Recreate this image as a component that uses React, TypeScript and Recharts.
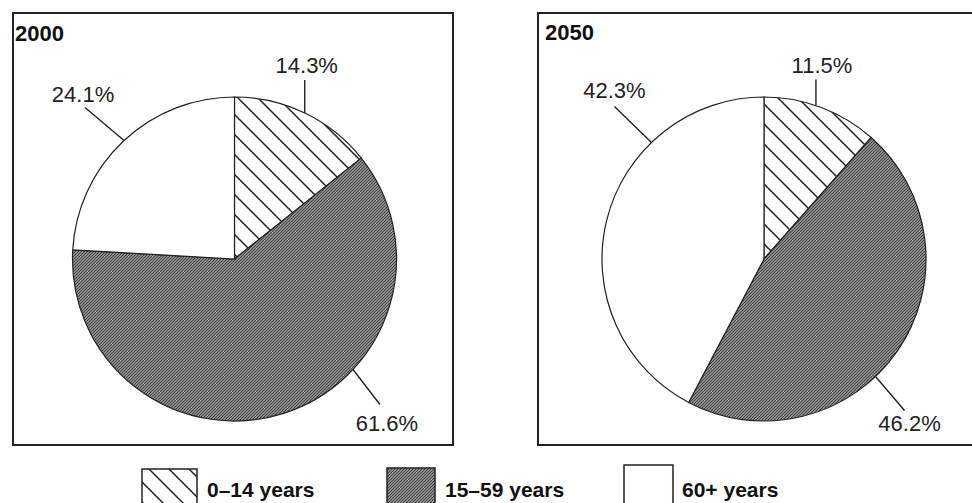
import { Cell, Customized, Pie, PieChart } from "recharts";

const AGE_GROUPS = ["0–14 years", "15–59 years", "60+ years"];
const YEARS = ["2000", "2050"];
const SHARE_2000 = [14.3, 61.6, 24.1];
const SHARE_2050 = [11.5, 46.2, 42.3];

const W = 972;
const H = 503;
const R = 162;
const INK = "#222";
const FONT = "Arial, 'Liberation Sans', Helvetica, sans-serif";

const FILLS = ["url(#hatch)", "url(#grain)", "#ffffff"];

// where each pie sits and its frame
const PANELS = [
  { cx: 234.5, cy: 259, frame: { x: 13, y: 13, w: 440, h: 432 }, title: { x: 15, y: 41 } },
  { cx: 764, cy: 259, frame: { x: 538, y: 13, w: 445, h: 432 }, title: { x: 545, y: 40 } },
];

// leader line: anchor angle on the rim, line vector, text centre + baseline offsets
const LABELS = [
  [
    { angle: 64.3, dx: 0, dy: -33, tx: 2, ty: -7 },
    { angle: -43, dx: 27, dy: 35, tx: 7, ty: 27 },
    { angle: 133, dx: -39, dy: -33, tx: -2, ty: -6 },
  ],
  [
    { angle: 71.3, dx: 0, dy: -26, tx: 6, ty: -7 },
    { angle: -46.5, dx: 29, dy: 34, tx: 5, ty: 20 },
    { angle: 134, dx: -37, dy: -36, tx: 0, ty: -8 },
  ],
];

const LEGEND = [
  { box: { x: 142, y: 469, w: 55 }, tx: 207 },
  { box: { x: 387, y: 468, w: 48 }, tx: 445 },
  { box: { x: 624, y: 465, w: 49 }, tx: 682 },
];

const RAD = Math.PI / 180;

function makeLabel(panel: number) {
  return (props: any) => {
    const { cx, cy, outerRadius, index, value } = props;
    const l = LABELS[panel][index];
    const x0 = cx + outerRadius * Math.cos(l.angle * RAD);
    const y0 = cy - outerRadius * Math.sin(l.angle * RAD);
    const x1 = x0 + l.dx;
    const y1 = y0 + l.dy;
    return (
      <g key={`lbl-${panel}-${index}`}>
        <line x1={x0} y1={y0} x2={x1} y2={y1} stroke={INK} strokeWidth={1.4} />
        <text
          x={x1 + l.tx}
          y={y1 + l.ty}
          textAnchor="middle"
          fontFamily={FONT}
          fontSize={22}
          fill={INK}
        >
          {`${value.toFixed(1)}%`}
        </text>
      </g>
    );
  };
}

function Decorations() {
  return (
    <g>
      <defs>
        <pattern id="hatch" patternUnits="userSpaceOnUse" width={20} height={20}>
          <rect width={20} height={20} fill="#fff" />
          <path d="M-5,-5 L25,25 M-5,15 L5,25 M15,-5 L25,5" stroke={INK} strokeWidth={1.5} />
        </pattern>
        <pattern id="grain" patternUnits="userSpaceOnUse" width={3} height={3}>
          <rect width={3} height={3} fill="#8a8a8a" />
          <path d="M-1,1 L1,-1 M0,3 L3,0 M2,4 L4,2" stroke="#454545" strokeWidth={1} />
        </pattern>
      </defs>
      {PANELS.map((p, i) => (
        <g key={`panel-${i}`}>
          <rect
            x={p.frame.x}
            y={p.frame.y}
            width={p.frame.w}
            height={p.frame.h}
            fill="none"
            stroke={INK}
            strokeWidth={2}
          />
          <text x={p.title.x} y={p.title.y} fontFamily={FONT} fontSize={22} fontWeight="bold" fill="#111">
            {YEARS[i]}
          </text>
        </g>
      ))}
      {AGE_GROUPS.map((name, i) => (
        <g key={`legend-${i}`}>
          <rect
            x={LEGEND[i].box.x}
            y={LEGEND[i].box.y}
            width={LEGEND[i].box.w}
            height={50}
            fill={FILLS[i]}
            stroke={INK}
            strokeWidth={1.5}
          />
          <text x={LEGEND[i].tx} y={497} fontFamily={FONT} fontSize={21} fontWeight="bold" fill="#111">
            {name}
          </text>
        </g>
      ))}
    </g>
  );
}

export default function App() {
  const series = [SHARE_2000, SHARE_2050].map((vals) =>
    vals.map((v, i) => ({ name: AGE_GROUPS[i], value: v }))
  );

  return (
    <div style={{ position: "absolute", left: 0, top: 0, width: W, height: H, background: "#fff" }}>
      <PieChart width={W} height={H} margin={{ top: 0, right: 0, bottom: 0, left: 0 }}>
        <Customized component={Decorations} />
        {series.map((data, p) => (
          <Pie
            key={YEARS[p]}
            data={data}
            dataKey="value"
            nameKey="name"
            cx={PANELS[p].cx}
            cy={PANELS[p].cy}
            outerRadius={R}
            innerRadius={0}
            startAngle={90}
            endAngle={-270}
            stroke={INK}
            strokeWidth={1.2}
            labelLine={false}
            label={makeLabel(p)}
            isAnimationActive={false}
          >
            {data.map((d, i) => (
              <Cell key={d.name} fill={FILLS[i]} />
            ))}
          </Pie>
        ))}
      </PieChart>
    </div>
  );
}
